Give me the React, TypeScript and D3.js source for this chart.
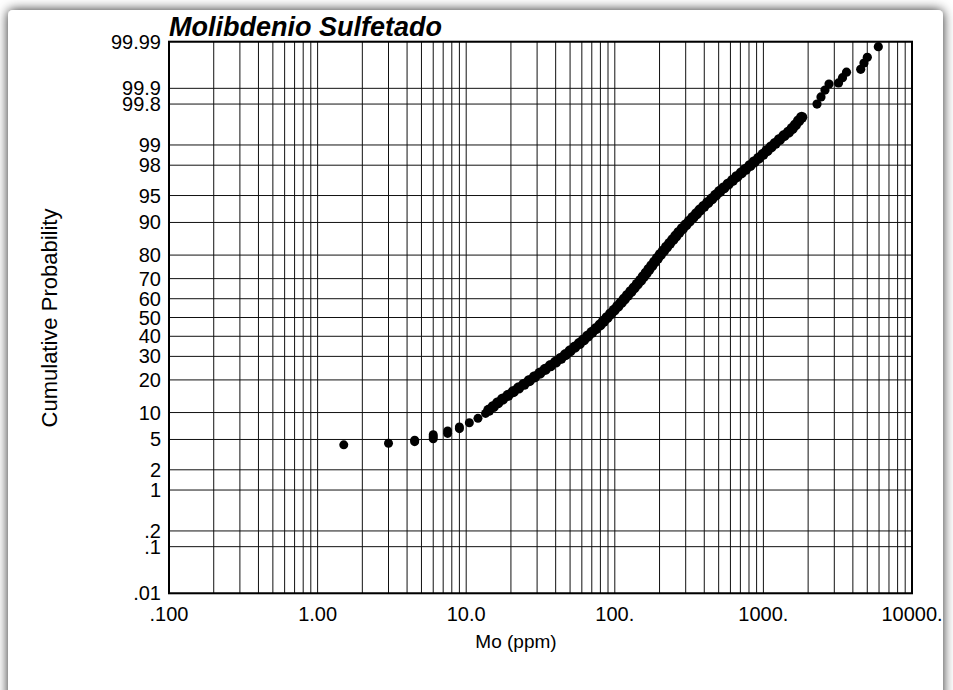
import React from "react";
import * as d3 from "d3";

// ---------- data ----------
const lowTailMo = [1.5, 3.0, 4.5, 4.5, 6.0, 6.0, 6.0, 7.5, 7.5, 9.0, 9.0, 10.5, 12.0, 13.5];
const lowTailPct = [4.3, 4.5, 4.7, 4.9, 5.1, 5.4, 5.7, 5.9, 6.3, 6.7, 7.0, 7.8, 8.7, 9.8];

const bodyMo = [
  14.19, 15.22, 16.32, 17.6, 19.11, 20.75, 22.52, 24.49, 26.59, 28.86,
  31.33, 33.96, 36.87, 40.03, 43.38, 46.58, 50.03, 53.8, 57.78, 61.75,
  65.8, 70.11, 74.71, 79.61, 84.04, 88.76, 93.85, 99.08, 104.6, 110.3,
  116.0, 121.9, 128.3, 134.9, 141.7, 148.9, 155.5, 162.7, 169.9, 177.4,
  185.5, 193.8, 202.7, 212.7, 223.2, 234.1, 245.7, 257.8, 270.4, 285.0,
  300.9, 317.7, 335.4, 354.6, 374.5, 397.8, 422.6, 449.6, 477.5, 507.3,
  542.3, 579.6, 620.5, 663.3, 710.0, 758.9, 812.4, 868.5, 929.8, 993.8,
  1059, 1128, 1203, 1282, 1376, 1478, 1562, 1642, 1726, 1810,
];
const bodyPct = [
  10.56, 11.51, 12.51, 13.57, 14.69, 15.87, 17.11, 18.41, 19.77, 21.19,
  22.66, 24.2, 25.78, 27.43, 29.12, 30.85, 32.64, 34.46, 36.32, 38.21,
  40.13, 42.07, 44.04, 46.02, 48.01, 50.0, 51.99, 53.98, 55.96, 57.93,
  59.87, 61.79, 63.68, 65.54, 67.36, 69.15, 70.88, 72.57, 74.22, 75.8,
  77.34, 78.81, 80.23, 81.59, 82.89, 84.13, 85.31, 86.43, 87.49, 88.49,
  89.44, 90.32, 91.15, 91.92, 92.65, 93.32, 93.94, 94.52, 95.05, 95.54,
  95.99, 96.41, 96.78, 97.13, 97.44, 97.72, 97.98, 98.21, 98.42, 98.61,
  98.78, 98.93, 99.06, 99.18, 99.29, 99.38, 99.46, 99.53, 99.6, 99.653,
];

const upperTailMo = [2295, 2441, 2597, 2764, 3203, 3406, 3624, 4517, 4753, 5003, 5933];
const upperTailPct = [99.8, 99.853, 99.892, 99.918, 99.922, 99.939, 99.953, 99.959, 99.97, 99.9775, 99.987];

const probTicks = [0.01, 0.1, 0.2, 1, 2, 5, 10, 20, 30, 40, 50, 60, 70, 80, 90, 95, 98, 99, 99.8, 99.9, 99.99];
const probLabels = [".01", ".1", ".2", "1", "2", "5", "10", "20", "30", "40", "50", "60", "70", "80", "90", "95", "98", "99", "99.8", "99.9", "99.99"];

const xTickValues = [0.1, 1, 10, 100, 1000, 10000];
const xTickLabels = [".100", "1.00", "10.0", "100.", "1000.", "10000."];

const titleText = "Molibdenio Sulfetado";
const xTitle = "Mo (ppm)";
const yTitle = "Cumulative Probability";

// ---------- inverse normal CDF (Acklam) ----------
function probit(p: number): number {
  const a = [-3.969683028665376e1, 2.209460984245205e2, -2.759285104469687e2, 1.38357751867269e2, -3.066479806614716e1, 2.506628277459239];
  const b = [-5.447609879822406e1, 1.615858368580409e2, -1.556989798598866e2, 6.680131188771972e1, -1.328068155288572e1];
  const c = [-7.784894002430293e-3, -3.223964580411365e-1, -2.400758277161838, -2.549732539343734, 4.374664141464968, 2.938163982698783];
  const d = [7.784695709041462e-3, 3.224671290700398e-1, 2.445134137142996, 3.754408661907416];
  const pl = 0.02425;
  if (p < pl) {
    const q = Math.sqrt(-2 * Math.log(p));
    return (((((c[0] * q + c[1]) * q + c[2]) * q + c[3]) * q + c[4]) * q + c[5]) / ((((d[0] * q + d[1]) * q + d[2]) * q + d[3]) * q + 1);
  }
  if (p > 1 - pl) {
    const q = Math.sqrt(-2 * Math.log(1 - p));
    return -(((((c[0] * q + c[1]) * q + c[2]) * q + c[3]) * q + c[4]) * q + c[5]) / ((((d[0] * q + d[1]) * q + d[2]) * q + d[3]) * q + 1);
  }
  const q = p - 0.5;
  const r = q * q;
  return ((((((a[0] * r + a[1]) * r + a[2]) * r + a[3]) * r + a[4]) * r + a[5]) * q) / (((((b[0] * r + b[1]) * r + b[2]) * r + b[3]) * r + b[4]) * r + 1);
}

const W = 953;
const H = 690;
const left = 169;
const right = 912;
const top = 41.7;
const bottom = 593.3;

export default function App() {
  const x = d3.scaleLog().domain([0.1, 10000]).range([left, right]);
  const zScale = d3
    .scaleLinear()
    .domain([probit(0.0001), probit(0.9999)])
    .range([bottom, top]);
  const y = (pct: number) => zScale(probit(pct / 100));

  const vGrid = x.ticks();
  const font = "'Liberation Sans', Arial, Helvetica, sans-serif";

  const tail = (mo: number[], pct: number[], r: number, key: string) =>
    mo.map((m, i) => <circle key={key + i} cx={x(m)} cy={y(pct[i])} r={r} fill="#000" />);

  return (
    <div style={{ position: "absolute", left: 0, top: 0, width: W, height: H }}>
      <svg width={W} height={H} style={{ display: "block" }} fontFamily={font}>
        <defs>
          <filter id="shadow" x="-5%" y="-5%" width="110%" height="110%">
            <feDropShadow dx="0" dy="0" stdDeviation="6" floodColor="#000" floodOpacity="0.85" />
          </filter>
        </defs>
        <rect x={0} y={0} width={W} height={H} fill="#fff" />
        <rect x={8} y={10} width={935} height={720} rx={5} fill="#fff" filter="url(#shadow)" />

        {/* vertical grid */}
        {vGrid.map((v, i) => (
          <line key={"vg" + i} x1={x(v)} x2={x(v)} y1={top} y2={bottom} stroke="#111" strokeWidth={1} />
        ))}
        {/* horizontal grid */}
        {probTicks.map((p, i) => (
          <line key={"hg" + i} x1={left} x2={right} y1={y(p)} y2={y(p)} stroke="#111" strokeWidth={1} />
        ))}
        <rect x={left} y={top} width={right - left} height={bottom - top} fill="none" stroke="#000" strokeWidth={2} />

        {/* y tick labels */}
        {probTicks.map((p, i) => (
          <text key={"yl" + i} x={161} y={y(p)} dy="0.35em" textAnchor="end" fontSize={20} fill="#000">
            {probLabels[i]}
          </text>
        ))}
        {/* x tick labels */}
        {xTickValues.map((v, i) => (
          <text key={"xl" + i} x={x(v)} y={621} textAnchor="middle" fontSize={20} fill="#000">
            {xTickLabels[i]}
          </text>
        ))}

        {/* data */}
        {tail(lowTailMo, lowTailPct, 4.5, "lt")}
        {tail(bodyMo, bodyPct, 5.6, "bd")}
        {tail(upperTailMo, upperTailPct, 4.6, "ut")}

        {/* titles */}
        <text x={169} y={36} fontSize={27} fontWeight="bold" fontStyle="italic" fill="#000">
          {titleText}
        </text>
        <text x={516} y={648} textAnchor="middle" fontSize={19} fill="#000">
          {xTitle}
        </text>
        <text transform="translate(57,318) rotate(-90)" textAnchor="middle" fontSize={22} fill="#000">
          {yTitle}
        </text>
      </svg>
    </div>
  );
}
